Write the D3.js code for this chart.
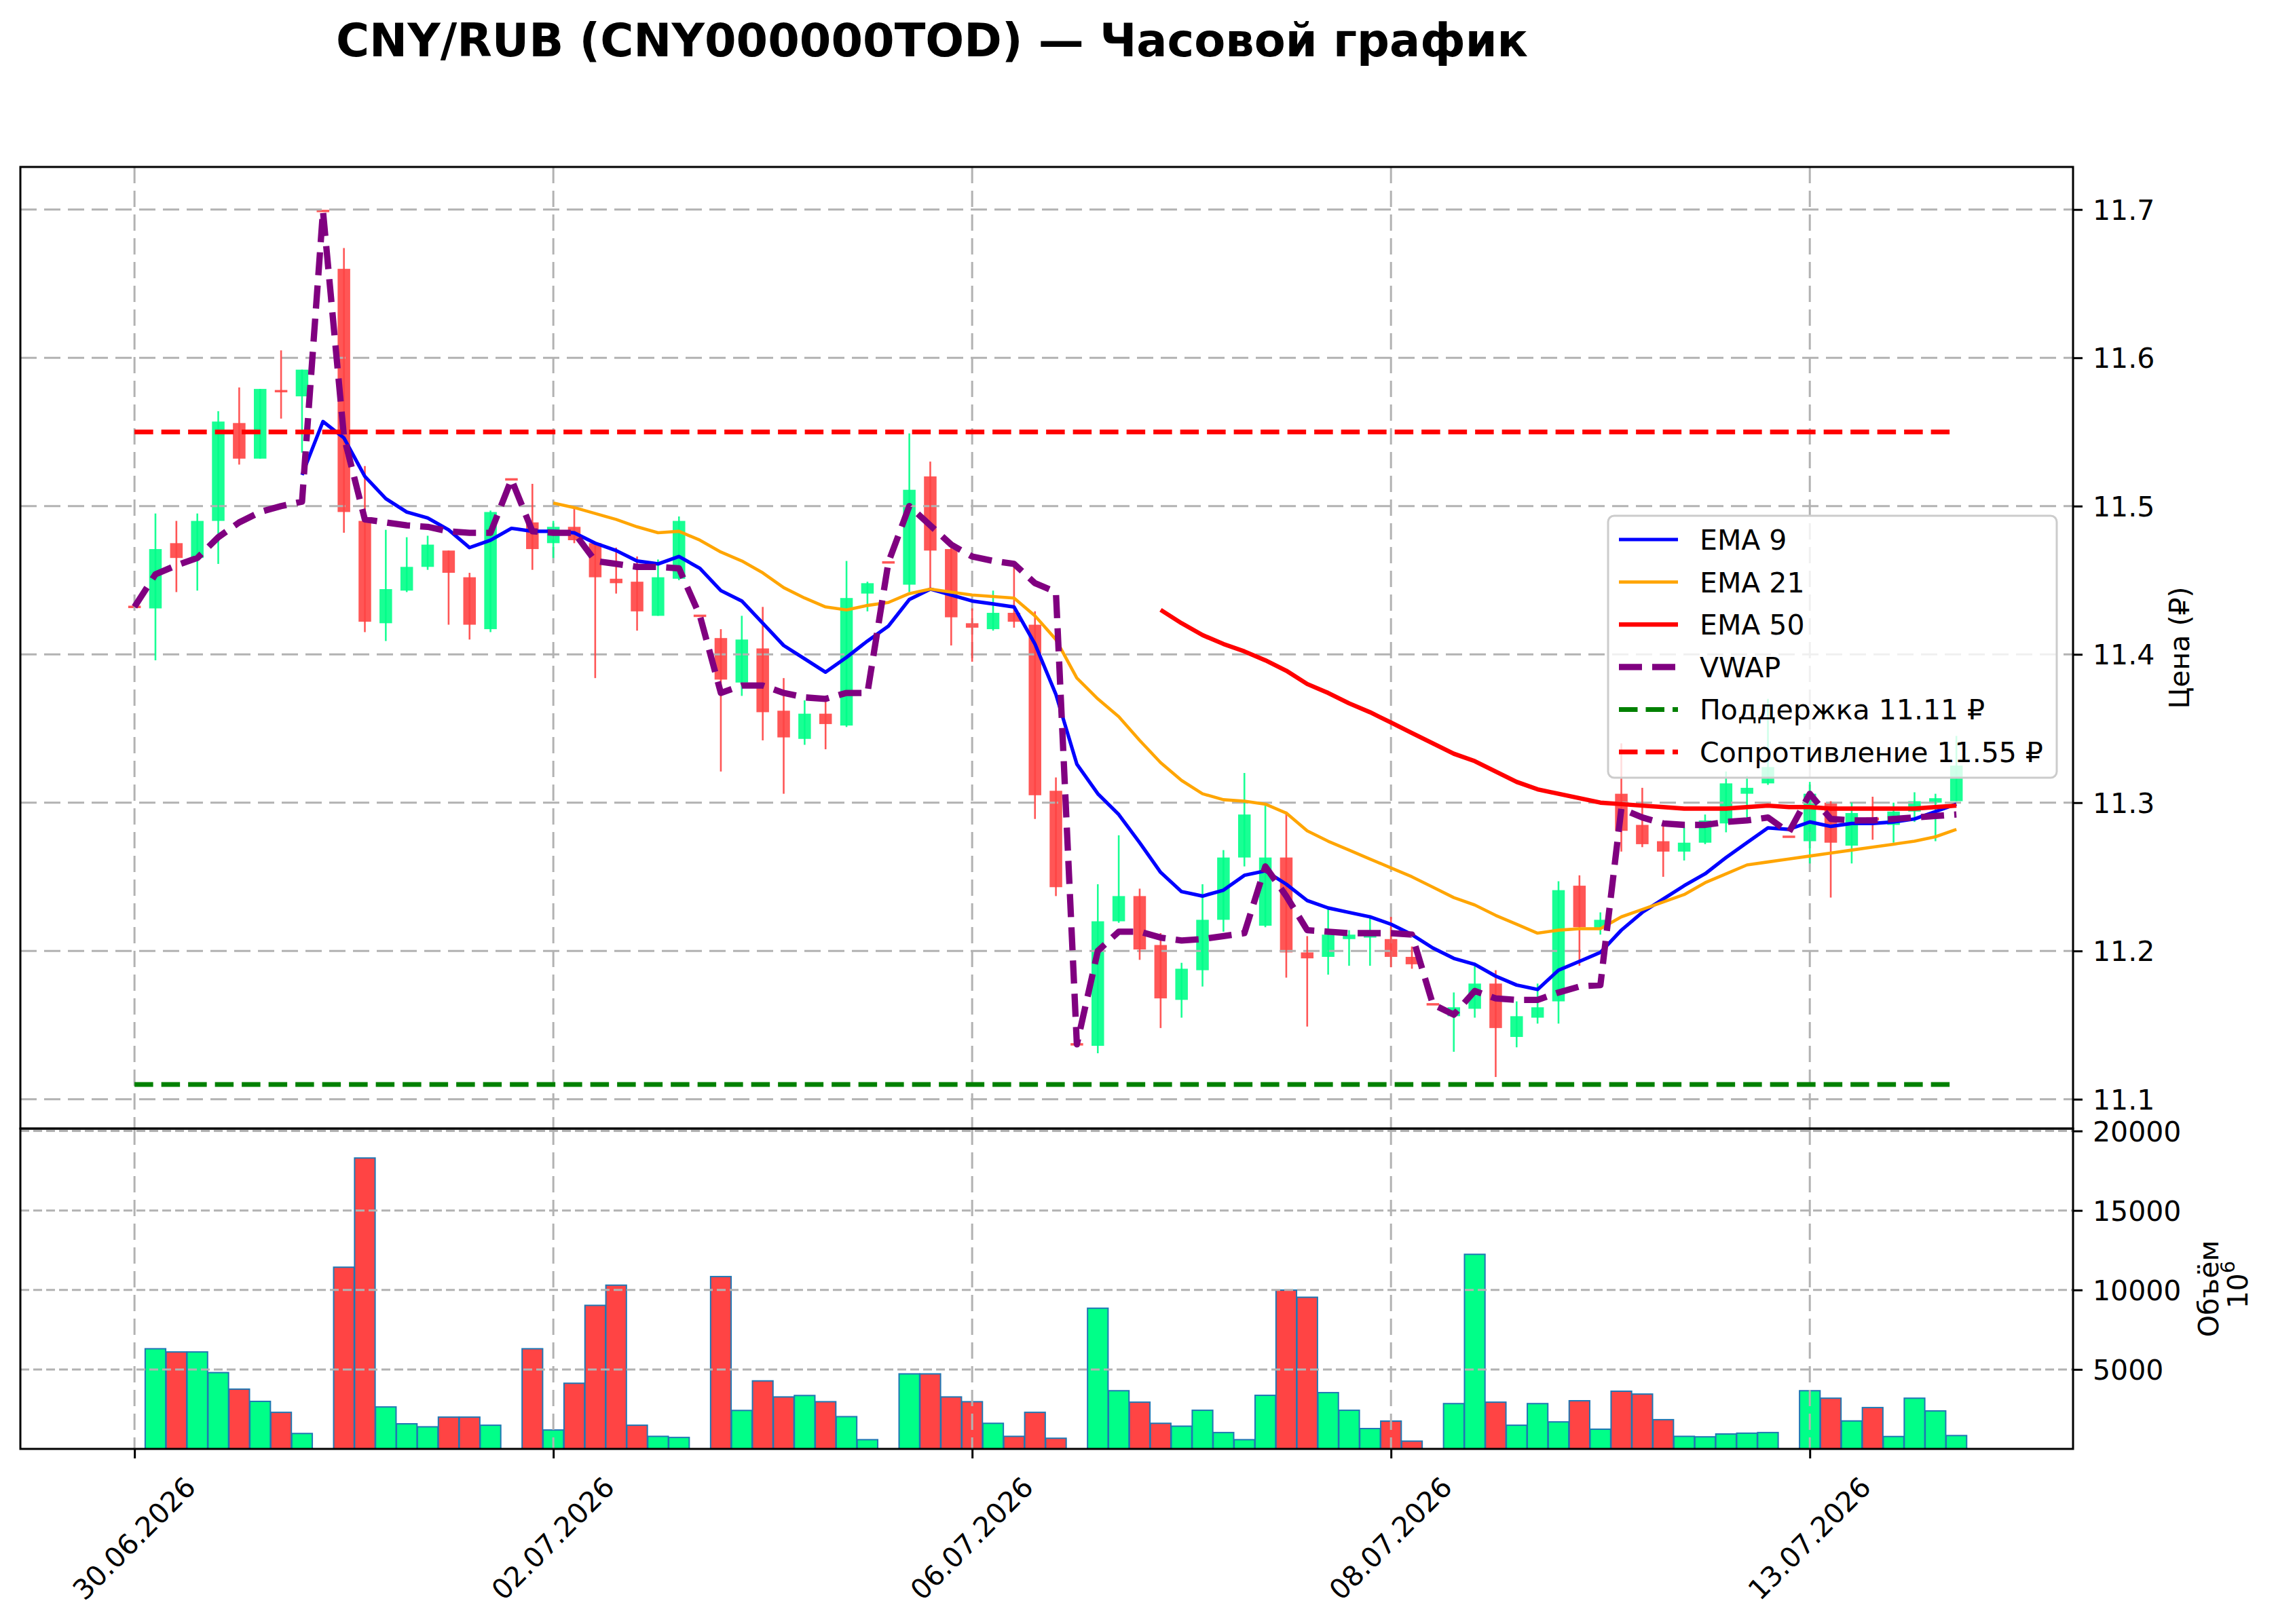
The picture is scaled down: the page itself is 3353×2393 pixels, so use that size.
<!DOCTYPE html>
<html><head><meta charset="utf-8">
<script src="https://cdn.jsdelivr.net/npm/d3@7"></script>
<style>
body{margin:0;background:#fff}
svg{display:block}
text{font-family:"DejaVu Sans",sans-serif}
</style>
</head><body>
<script>
// ---------------- DATA ----------------
const titleText = "CNY/RUB (CNY000000TOD) — Часовой график";
const tickIdx = [0, 20, 40, 60, 80];
const tickLabels = ["30.06.2026", "02.07.2026", "06.07.2026", "08.07.2026", "13.07.2026"];

const opens = [11.432,11.431,11.475,11.465,11.490,11.556,11.532,11.578,11.574,11.699,
11.660,11.490,11.421,11.443,11.459,11.470,11.452,11.417,11.518,11.489,
11.475,11.486,11.475,11.451,11.449,11.426,11.451,11.426,11.411,11.381,
11.404,11.362,11.343,11.360,11.352,11.441,11.462,11.447,11.520,11.471,
11.421,11.417,11.428,11.420,11.308,11.137,11.136,11.220,11.237,11.204,
11.167,11.187,11.221,11.263,11.217,11.263,11.199,11.196,11.208,11.209,
11.208,11.196,11.164,11.156,11.161,11.178,11.142,11.155,11.166,11.244,
11.215,11.306,11.285,11.274,11.267,11.273,11.286,11.306,11.313,11.277,
11.274,11.300,11.271,11.290,11.285,11.294,11.300,11.301];
const highs = [11.432,11.495,11.490,11.495,11.564,11.580,11.579,11.605,11.592,11.699,
11.674,11.527,11.484,11.479,11.480,11.470,11.455,11.497,11.518,11.515,
11.490,11.499,11.476,11.472,11.466,11.464,11.493,11.426,11.417,11.426,
11.432,11.384,11.369,11.368,11.463,11.449,11.462,11.549,11.530,11.474,
11.431,11.443,11.459,11.429,11.317,11.137,11.245,11.278,11.242,11.212,
11.192,11.245,11.268,11.320,11.299,11.294,11.210,11.228,11.214,11.224,
11.223,11.203,11.164,11.172,11.192,11.187,11.166,11.178,11.247,11.251,
11.226,11.340,11.310,11.287,11.283,11.292,11.321,11.318,11.370,11.277,
11.314,11.301,11.300,11.304,11.300,11.307,11.306,11.345];
const lows = [11.432,11.396,11.442,11.443,11.461,11.528,11.532,11.559,11.536,11.699,
11.482,11.415,11.409,11.442,11.457,11.420,11.410,11.415,11.518,11.457,
11.465,11.475,11.384,11.441,11.416,11.426,11.450,11.426,11.321,11.372,
11.342,11.306,11.339,11.336,11.351,11.429,11.462,11.442,11.445,11.406,
11.395,11.416,11.418,11.289,11.237,11.137,11.131,11.219,11.194,11.148,
11.155,11.176,11.213,11.257,11.216,11.182,11.149,11.184,11.190,11.190,
11.189,11.188,11.164,11.132,11.155,11.115,11.135,11.151,11.151,11.190,
11.211,11.267,11.270,11.250,11.261,11.272,11.280,11.290,11.312,11.277,
11.259,11.236,11.259,11.275,11.273,11.287,11.274,11.301];
const closes = [11.432,11.471,11.465,11.490,11.557,11.532,11.579,11.577,11.592,11.699,
11.496,11.422,11.444,11.459,11.474,11.455,11.420,11.496,11.518,11.471,
11.486,11.477,11.452,11.448,11.429,11.452,11.490,11.426,11.383,11.410,
11.361,11.344,11.360,11.353,11.438,11.448,11.462,11.511,11.470,11.425,
11.418,11.428,11.422,11.305,11.243,11.137,11.220,11.237,11.201,11.168,
11.188,11.221,11.263,11.292,11.263,11.199,11.195,11.211,11.211,11.211,
11.196,11.191,11.164,11.162,11.178,11.148,11.156,11.162,11.241,11.216,
11.221,11.281,11.272,11.267,11.273,11.288,11.313,11.310,11.324,11.277,
11.306,11.273,11.293,11.288,11.294,11.301,11.303,11.325];
const volumes = [0,6300,6100,6100,4800,3760,2990,2300,970,0,
11430,18300,2640,1580,1390,2000,2000,1490,null,6300,
1190,4130,9030,10300,1490,790,720,null,10840,2420,
4280,3270,3360,2970,2030,580,null,4720,4720,3270,
2970,1610,790,2300,670,0,8850,3660,2940,1610,
1430,2430,1030,580,3370,9990,9540,3540,2430,1280,
1750,490,null,2850,12240,2940,1490,2850,1700,3030,
1240,3630,3450,1840,790,760,940,990,1030,null,
3660,3190,1760,2600,780,3190,2390,840];
const ema9 = [null,null,null,null,null,null,null,null,11.521,11.557,
11.546,11.520,11.505,11.496,11.492,11.484,11.472,11.477,11.485,11.483,
11.483,11.482,11.475,11.470,11.463,11.461,11.466,11.458,11.443,11.436,
11.421,11.406,11.397,11.388,11.398,11.409,11.419,11.437,11.444,11.440,
11.436,11.434,11.432,11.407,11.373,11.326,11.306,11.292,11.273,11.253,
11.240,11.237,11.241,11.251,11.254,11.245,11.234,11.229,11.226,11.223,
11.218,11.211,11.202,11.195,11.191,11.183,11.177,11.174,11.187,11.193,
11.199,11.214,11.226,11.235,11.244,11.252,11.263,11.273,11.283,11.282,
11.287,11.284,11.286,11.286,11.287,11.289,11.294,11.299];
const ema21 = [null,null,null,null,null,null,null,null,null,null,
null,null,null,null,null,null,null,null,null,null,
11.502,11.499,11.495,11.491,11.486,11.482,11.483,11.477,11.469,11.463,
11.455,11.445,11.438,11.432,11.430,11.433,11.435,11.441,11.444,11.442,
11.440,11.439,11.438,11.426,11.410,11.384,11.370,11.358,11.342,11.327,
11.315,11.306,11.302,11.301,11.299,11.293,11.281,11.274,11.268,11.262,
11.256,11.250,11.243,11.236,11.231,11.224,11.218,11.212,11.214,11.215,
11.215,11.223,11.228,11.233,11.238,11.246,11.252,11.258,11.260,11.262,
11.264,11.266,11.268,11.270,11.272,11.274,11.277,11.282];
const ema50 = [null,null,null,null,null,null,null,null,null,null,
null,null,null,null,null,null,null,null,null,null,
null,null,null,null,null,null,null,null,null,null,
null,null,null,null,null,null,null,null,null,null,
null,null,null,null,null,null,null,null,null,11.430,
11.421,11.413,11.407,11.402,11.396,11.389,11.380,11.374,11.367,11.361,
11.354,11.347,11.340,11.333,11.328,11.321,11.314,11.309,11.306,11.303,
11.300,11.299,11.298,11.297,11.296,11.296,11.296,11.297,11.298,11.297,
11.297,11.296,11.296,11.296,11.296,11.296,11.297,11.298];
const vwap = [11.432,11.454,11.460,11.465,11.479,11.489,11.496,11.500,11.503,11.699,
11.547,11.491,11.489,11.487,11.486,11.483,11.482,11.482,11.518,11.483,
11.482,11.482,11.463,11.461,11.459,11.459,11.458,11.426,11.374,11.379,
11.379,11.374,11.371,11.370,11.374,11.374,11.462,11.500,11.487,11.474,
11.466,11.463,11.461,11.448,11.442,11.137,11.200,11.213,11.213,11.209,
11.207,11.208,11.210,11.212,11.257,11.237,11.214,11.213,11.212,11.212,
11.212,11.211,11.164,11.157,11.173,11.168,11.167,11.167,11.172,11.176,
11.177,11.296,11.290,11.286,11.285,11.285,11.287,11.288,11.290,11.280,
11.306,11.289,11.288,11.288,11.289,11.290,11.291,11.292];
const supportLevel = 11.11;
const resistanceLevel = 11.55;
const priceTicks = [11.1, 11.2, 11.3, 11.4, 11.5, 11.6, 11.7];
const volumeTicks = [5000, 10000, 15000, 20000];
const legendLabels = ["EMA 9", "EMA 21", "EMA 50", "VWAP", "Поддержка 11.11 ₽", "Сопротивление 11.55 ₽"];

// ---------------- LAYOUT ----------------
const W = 3353, H = 2393;
const L = 30, R = 3054, PT = 246, PB = 1663, VT = 1663, VB = 2135;
const GREEN = "#00ff88", RED = "#ff4444";
const GRID = "#b2b2b2";
const FS = 41;

const svg = d3.select("body").append("svg").attr("width", W).attr("height", H);
svg.append("rect").attr("width", W).attr("height", H).attr("fill", "#fff");

const x = d3.scaleLinear().domain([-5.45, 92.57]).range([L, R]);
const y = d3.scaleLinear().domain([11.0802, 11.7287]).range([PB, PT]);
const yv = d3.scaleLinear().domain([0, 20150]).range([VB, VT]);
const step = x(1) - x(0);
const idx = d3.range(closes.length);

const defs = svg.append("defs");
defs.append("clipPath").attr("id", "cp").append("rect").attr("x", L).attr("y", PT).attr("width", R - L).attr("height", PB - PT);
defs.append("clipPath").attr("id", "cv").append("rect").attr("x", L).attr("y", VT).attr("width", R - L).attr("height", VB - VT);

// ---------------- PRICE PANEL ----------------
const gp = svg.append("g").attr("clip-path", "url(#cp)");
const col = i => closes[i] > opens[i] ? GREEN : RED;
const bw = 0.6 * step;

// bodies
gp.append("g").selectAll("rect").data(idx).join("rect")
  .attr("x", i => x(i) - bw / 2)
  .attr("y", i => {
    const t = y(Math.max(opens[i], closes[i])), b = y(Math.min(opens[i], closes[i]));
    return (b - t) < 3.5 ? (t + b) / 2 - 1.75 : t;
  })
  .attr("width", bw)
  .attr("height", i => Math.max(3.5, y(Math.min(opens[i], closes[i])) - y(Math.max(opens[i], closes[i]))))
  .attr("fill", col).attr("fill-opacity", 0.9);

// grid (price)
gp.append("g").selectAll("line").data(priceTicks).join("line")
  .attr("x1", L).attr("x2", R).attr("y1", d => y(d)).attr("y2", d => y(d))
  .attr("stroke", GRID).attr("stroke-width", 3).attr("stroke-dasharray", "24,11");
gp.append("g").selectAll("line").data(tickIdx).join("line")
  .attr("x1", d => x(d)).attr("x2", d => x(d)).attr("y1", PT).attr("y2", PB)
  .attr("stroke", GRID).attr("stroke-width", 3).attr("stroke-dasharray", "24,11");

// wicks
gp.append("g").selectAll("line").data(idx).join("line")
  .attr("x1", i => x(i)).attr("x2", i => x(i))
  .attr("y1", i => y(highs[i])).attr("y2", i => y(lows[i]))
  .attr("stroke", col).attr("stroke-opacity", 0.9).attr("stroke-width", 2.6);

const line = d3.line().defined(d => d != null).x((d, i) => x(i)).y(d => y(d));
const series = [
  {data: ema9, color: "#0000ff", w: 5.2, dash: null},
  {data: ema21, color: "#ffa500", w: 4.6, dash: null},
  {data: ema50, color: "#ff0000", w: 6.4, dash: null},
  {data: vwap, color: "#800080", w: 9.3, dash: "34,15"}
];
series.forEach(s => {
  gp.append("path").attr("d", line(s.data)).attr("fill", "none")
    .attr("stroke", s.color).attr("stroke-width", s.w)
    .attr("stroke-linejoin", "round")
    .attr("stroke-dasharray", s.dash);
});
const levels = [
  {v: supportLevel, color: "#008000"},
  {v: resistanceLevel, color: "#ff0000"}
];
levels.forEach(l => {
  gp.append("line").attr("x1", x(0)).attr("x2", x(closes.length - 1))
    .attr("y1", y(l.v)).attr("y2", y(l.v))
    .attr("stroke", l.color).attr("stroke-width", 7).attr("stroke-dasharray", "27.5,12");
});

// legend
const lg = svg.append("g");
lg.append("rect").attr("x", 2369).attr("y", 760).attr("width", 661).attr("height", 386)
  .attr("rx", 9).attr("fill", "#fff").attr("fill-opacity", 0.8)
  .attr("stroke", "#cccccc").attr("stroke-width", 3);
const legendStyles = [
  {color: "#0000ff", w: 5.2, dash: null},
  {color: "#ffa500", w: 4.6, dash: null},
  {color: "#ff0000", w: 6.4, dash: null},
  {color: "#800080", w: 9.3, dash: "34,15"},
  {color: "#008000", w: 7, dash: "27.5,12"},
  {color: "#ff0000", w: 7, dash: "27.5,12"}
];
legendLabels.forEach((t, i) => {
  const ry = 795 + i * 62.6;
  const st = legendStyles[i];
  lg.append("line").attr("x1", 2385).attr("x2", 2472).attr("y1", ry).attr("y2", ry)
    .attr("stroke", st.color).attr("stroke-width", st.w).attr("stroke-dasharray", st.dash);
  lg.append("text").attr("x", 2504).attr("y", ry + 15).attr("font-size", FS).attr("fill", "#000").text(t);
});

// price axis (right)
const pa = svg.append("g").attr("transform", `translate(${R},0)`)
  .call(d3.axisRight(y).tickValues(priceTicks).tickFormat(d3.format(".1f")).tickSize(14).tickPadding(15));
pa.select(".domain").remove();
pa.selectAll(".tick line").attr("stroke", "#000").attr("stroke-width", 3);
pa.selectAll(".tick text").attr("font-size", FS).attr("font-family", "DejaVu Sans").attr("fill", "#000").attr("dy", "0.36em");

// ---------------- VOLUME PANEL ----------------
const gv = svg.append("g").attr("clip-path", "url(#cv)");
const vbw = 0.98 * step;
gv.append("g").selectAll("rect").data(idx.filter(i => volumes[i] != null)).join("rect")
  .attr("x", i => x(i) - vbw / 2).attr("width", vbw)
  .attr("y", i => yv(volumes[i])).attr("height", i => VB - yv(volumes[i]))
  .attr("fill", col).attr("stroke", "#1f77b4").attr("stroke-width", 2);
gv.append("g").selectAll("line").data(volumeTicks).join("line")
  .attr("x1", L).attr("x2", R).attr("y1", d => yv(d)).attr("y2", d => yv(d))
  .attr("stroke", GRID).attr("stroke-width", 3).attr("stroke-dasharray", "13,6");
gv.append("g").selectAll("line").data(tickIdx).join("line")
  .attr("x1", d => x(d)).attr("x2", d => x(d)).attr("y1", VT).attr("y2", VB)
  .attr("stroke", GRID).attr("stroke-width", 3).attr("stroke-dasharray", "24,11");

const va = svg.append("g").attr("transform", `translate(${R},0)`)
  .call(d3.axisRight(yv).tickValues(volumeTicks).tickFormat(d => String(d)).tickSize(14).tickPadding(15));
va.select(".domain").remove();
va.selectAll(".tick line").attr("stroke", "#000").attr("stroke-width", 3);
va.selectAll(".tick text").attr("font-size", FS).attr("font-family", "DejaVu Sans").attr("fill", "#000").attr("dy", "0.36em");

// x axis
const xa = svg.append("g").attr("transform", `translate(0,${VB})`)
  .call(d3.axisBottom(x).tickValues(tickIdx).tickFormat((d, i) => tickLabels[i]).tickSize(14));
xa.select(".domain").remove();
xa.selectAll(".tick line").attr("stroke", "#000").attr("stroke-width", 3);
xa.selectAll(".tick text").attr("font-size", FS).attr("font-family", "DejaVu Sans").attr("fill", "#000")
  .attr("x", 0).attr("y", 0).attr("dy", null).attr("text-anchor", "end")
  .attr("transform", "translate(92,59) rotate(-45)");

// spines
svg.append("rect").attr("x", L).attr("y", PT).attr("width", R - L).attr("height", PB - PT)
  .attr("fill", "none").attr("stroke", "#000").attr("stroke-width", 3);
svg.append("rect").attr("x", L).attr("y", VT).attr("width", R - L).attr("height", VB - VT)
  .attr("fill", "none").attr("stroke", "#000").attr("stroke-width", 3);

// axis labels
svg.append("text").attr("transform", `translate(3211,${(PT + PB) / 2}) rotate(-90)`)
  .attr("text-anchor", "middle").attr("dominant-baseline", "central").attr("font-size", FS).text("Цена (₽)");
svg.append("text").attr("transform", `translate(3254,${(VT + VB) / 2}) rotate(-90)`)
  .attr("text-anchor", "middle").attr("dominant-baseline", "central").attr("font-size", FS).text("Объём");
const t6 = svg.append("text").attr("transform", `translate(3297,${(VT + VB) / 2 - 6}) rotate(-90)`)
  .attr("text-anchor", "middle").attr("dominant-baseline", "central").attr("font-size", FS);
t6.append("tspan").text("10");
t6.append("tspan").attr("font-size", 29).attr("dy", -15).text("6");

// title
svg.append("text").attr("x", 1373).attr("y", 83).attr("text-anchor", "middle")
  .attr("font-size", 67).attr("font-weight", "bold").text(titleText);
</script>
</body></html>
